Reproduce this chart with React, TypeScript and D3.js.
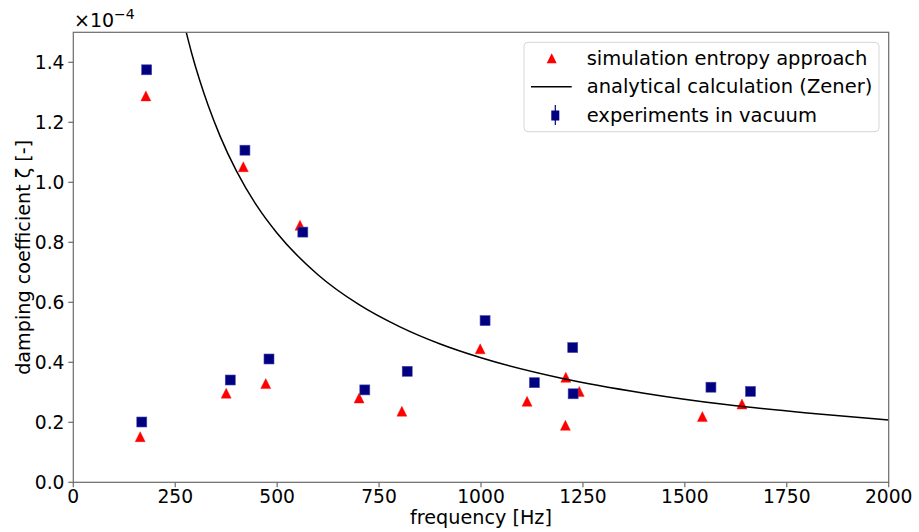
import React from "react";
import * as d3 from "d3";

// simulation entropy approach (red triangles)
const simFreq = [164, 178, 375, 417, 472, 556, 701, 806, 998, 1113, 1207, 1208, 1241, 1543, 1640];
const simZeta = [0.152, 1.288, 0.297, 1.052, 0.329, 0.857, 0.281, 0.237, 0.445, 0.27, 0.19, 0.35, 0.303, 0.219, 0.261];

// experiments in vacuum (navy squares)
const expFreq = [168, 180, 385, 421, 480, 563, 715, 819, 1010, 1131, 1225, 1226, 1564, 1661];
const expZeta = [0.201, 1.375, 0.341, 1.107, 0.411, 0.834, 0.308, 0.37, 0.539, 0.332, 0.449, 0.295, 0.317, 0.303];

// analytical calculation (Zener)
const zenerFreq = [277, 290, 310, 330, 360, 400, 450, 500, 600, 700, 800, 900, 1000, 1200, 1400, 1600, 1800, 2000];
const zenerZeta = [1.5, 1.432, 1.34, 1.259, 1.154, 1.038, 0.922, 0.83, 0.692, 0.593, 0.519, 0.461, 0.415, 0.346, 0.297, 0.259, 0.231, 0.208];

const xTicks = [0, 250, 500, 750, 1000, 1250, 1500, 1750, 2000];
const yTicks = [0, 0.2, 0.4, 0.6, 0.8, 1.0, 1.2, 1.4];

const legendLabels = ["simulation entropy approach", "analytical calculation (Zener)", "experiments in vacuum"];

const W = 919;
const H = 532;
const L = 73.3;
const R = 888.7;
const T = 32.3;
const B = 482.3;
const FONT = "'DejaVu Sans', sans-serif";
const SPINE = "#6a6a6a";

export default function App() {
  const x = d3.scaleLinear().domain([0, 2000]).range([L, R]);
  const y = d3.scaleLinear().domain([0, 1.5]).range([B, T]);

  const line = d3
    .line<number>()
    .x((_, i) => x(zenerFreq[i]))
    .y((_, i) => y(zenerZeta[i]))
    .curve(d3.curveMonotoneX);

  const tri = (cx: number, cy: number, h: number) =>
    `M${cx},${cy - h}L${cx + h},${cy + h}L${cx - h},${cy + h}Z`;

  return (
    <svg
      width={W}
      height={H}
      style={{ position: "absolute", left: 0, top: 0, background: "#fff" }}
      fontFamily={FONT}
    >
      <defs>
        <clipPath id="plotclip">
          <rect x={L} y={T} width={R - L} height={B - T} />
        </clipPath>
      </defs>
      <rect x={0} y={0} width={W} height={H} fill="#fff" />

      <g clipPath="url(#plotclip)">
        {simFreq.map((f, i) => (
          <path key={"s" + i} d={tri(x(f), y(simZeta[i]), 5)} fill="#ff0000" stroke="#ff0000" strokeWidth={0.4} />
        ))}
        <path d={line(zenerZeta) || ""} fill="none" stroke="#000" strokeWidth={1.5} />
        {expFreq.map((f, i) => (
          <rect
            key={"e" + i}
            x={x(f) - 5}
            y={y(expZeta[i]) - 5}
            width={10}
            height={10}
            fill="#000080"
            stroke="#4a4aa8"
            strokeWidth={0.6}
          />
        ))}
      </g>

      {/* spines */}
      <rect x={L} y={T} width={R - L} height={B - T} fill="none" stroke={SPINE} strokeWidth={1.2} />

      {/* x ticks */}
      {xTicks.map((t) => (
        <g key={"xt" + t}>
          <line x1={x(t)} x2={x(t)} y1={B} y2={B + 5} stroke={SPINE} strokeWidth={1.2} />
          <text x={x(t)} y={503} textAnchor="middle" fontSize={18.7} fill="#000">
            {t}
          </text>
        </g>
      ))}
      {/* y ticks */}
      {yTicks.map((t) => (
        <g key={"yt" + t}>
          <line x1={L - 5} x2={L} y1={y(t)} y2={y(t)} stroke={SPINE} strokeWidth={1.2} />
          <text x={64.5} y={y(t) + 6.8} textAnchor="end" fontSize={18.7} fill="#000">
            {t.toFixed(1)}
          </text>
        </g>
      ))}

      {/* offset text */}
      <text x={74} y={27} fontSize={19} fill="#000">
        ×10
        <tspan dy={-8} fontSize={14}>−4</tspan>
      </text>

      {/* axis labels */}
      <text x={(L + R) / 2} y={524} textAnchor="middle" fontSize={19.2} fill="#000">
        frequency [Hz]
      </text>
      <text
        transform={`translate(30,${(T + B) / 2}) rotate(-90)`}
        textAnchor="middle"
        fontSize={19.2}
        fill="#000"
      >
        damping coefficient ζ [-]
      </text>

      {/* legend */}
      <g>
        <rect x={524} y={42.3} width={355} height={89.4} rx={4} fill="#fff" fillOpacity={0.8} stroke="#d6d6d6" strokeWidth={1} />
        <path d={tri(551.7, 58.3, 5)} fill="#ff0000" />
        <line x1={531} x2={571.7} y1={86.7} y2={86.7} stroke="#000" strokeWidth={1.5} />
        <line x1={555.3} x2={555.3} y1={105} y2={125} stroke="#000080" strokeWidth={1.2} />
        <rect x={551.3} y={110.5} width={8} height={10} fill="#000080" />
        {legendLabels.map((lab, i) => (
          <text key={lab} x={586.7} y={64.8 + i * 28.5} fontSize={19.5} fill="#000">
            {lab}
          </text>
        ))}
      </g>
    </svg>
  );
}
